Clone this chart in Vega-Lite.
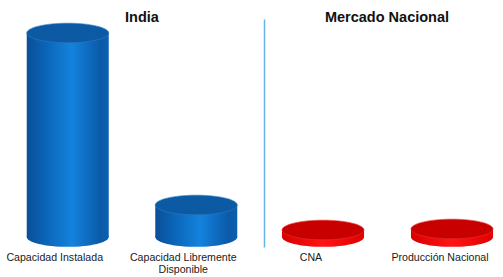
{
  "$schema": "https://vega.github.io/schema/vega-lite/v6.json",
  "padding": {"top": 9, "left": 0, "right": 0, "bottom": 0},
  "spacing": 0,
  "background": "white",
  "config": {
    "view": {"stroke": null},
    "font": "Liberation Sans",
    "title": {"font": "Liberation Sans", "fontSize": 14.5, "fontWeight": "bold", "color": "#111111", "anchor": "middle"},
    "axis": {"labelFont": "Liberation Sans", "labelFontSize": 10.6, "labelColor": "#1a1a1a"}
  },
  "hconcat": [
    {
      "width": 264,
      "height": 228,
      "title": {"text": "India", "dx": 10, "dy": 10},
      "data": {"values": [
        {"categoria": "Capacidad Instalada", "valor": 204},
        {"categoria": "Capacidad Libremente Disponible", "valor": 32}
      ]},
      "encoding": {
        "x": {
          "field": "categoria", "type": "nominal", "sort": null,
          "scale": {"paddingInner": 0.362, "paddingOuter": 0.208, "align": 0.5, "round": false},
          "axis": {"title": null, "domain": false, "ticks": false, "tickSize": 0, "labelAngle": 0, "labelPadding": 5, "labelOffset": -13, "labelLineHeight": 12,
                   "labelExpr": "datum.label == 'Capacidad Libremente Disponible' ? ['Capacidad Libremente', 'Disponible'] : datum.label"}
        }
      },
      "layer": [
        {
          "mark": {"type": "point", "shape": "M-1,0A1,0.24,0,1,1,1,0A1,0.24,0,1,1,-1,0Z", "size": 6724, "filled": true, "opacity": 1, "strokeWidth": 0,
                   "fill": {"gradient": "linear", "x1": 0, "x2": 1, "y1": 0, "y2": 0, "stops": [{"offset": 0, "color": "#0a4f96"}, {"offset": 0.2, "color": "#0a62b4"}, {"offset": 0.55, "color": "#1482dd"}, {"offset": 0.9, "color": "#0a5aa8"}, {"offset": 1, "color": "#0c60b0"}]}},
          "encoding": {"y": {"datum": 0, "type": "quantitative", "scale": {"domain": [-10, 218], "nice": false, "zero": false}, "axis": null}}
        },
        {
          "mark": {"type": "bar", "width": {"band": 1},
                   "fill": {"gradient": "linear", "x1": 0, "x2": 1, "y1": 0, "y2": 0, "stops": [{"offset": 0, "color": "#0a4f96"}, {"offset": 0.2, "color": "#0a62b4"}, {"offset": 0.55, "color": "#1482dd"}, {"offset": 0.9, "color": "#0a5aa8"}, {"offset": 1, "color": "#0c60b0"}]}},
          "encoding": {"y": {"field": "valor", "type": "quantitative", "scale": {"domain": [-10, 218], "nice": false, "zero": false}, "axis": null}}
        },
        {
          "mark": {"type": "point", "shape": "M-1,0A1,0.24,0,1,1,1,0A1,0.24,0,1,1,-1,0Z", "size": 6724, "filled": true, "opacity": 1, "fill": "#0b5aa3", "stroke": "#2f7cc0", "strokeWidth": 0.6},
          "encoding": {"y": {"field": "valor", "type": "quantitative", "scale": {"domain": [-10, 218], "nice": false, "zero": false}, "axis": null}}
        }
      ]
    },
    {
      "width": 238,
      "height": 228,
      "title": {"text": "Mercado Nacional", "dx": 4, "dy": 10},
      "data": {"values": [
        {"categoria": "CNA", "valor": 7},
        {"categoria": "Producción Nacional", "valor": 8}
      ]},
      "encoding": {
        "x": {
          "field": "categoria", "type": "nominal", "sort": null,
          "scale": {"paddingInner": 0.364, "paddingOuter": 0.1045, "align": 0.667, "round": false},
          "axis": {"title": null, "domain": false, "ticks": false, "tickSize": 0, "labelAngle": 0, "labelPadding": 5, "labelOffset": -12, "labelLineHeight": 12}
        },
        "y": {"field": "valor", "type": "quantitative", "scale": {"domain": [-10, 218], "nice": false, "zero": false},
              "axis": {"title": null, "labels": false, "ticks": false, "grid": false, "domain": true, "domainColor": "#66b3e6", "domainWidth": 1.5}}
      },
      "layer": [
        {
          "mark": {"type": "point", "shape": "M-1,0A1,0.24,0,1,1,1,0A1,0.24,0,1,1,-1,0Z", "size": 6724, "filled": true, "opacity": 1, "strokeWidth": 0,
                   "fill": {"gradient": "linear", "x1": 0, "x2": 1, "y1": 0, "y2": 0, "stops": [{"offset": 0, "color": "#d80000"}, {"offset": 0.5, "color": "#ff1414"}, {"offset": 1, "color": "#e00000"}]}},
          "encoding": {"y": {"datum": 0, "type": "quantitative"}}
        },
        {
          "mark": {"type": "bar", "width": {"band": 1},
                   "fill": {"gradient": "linear", "x1": 0, "x2": 1, "y1": 0, "y2": 0, "stops": [{"offset": 0, "color": "#d80000"}, {"offset": 0.5, "color": "#ff1414"}, {"offset": 1, "color": "#e00000"}]}}
        },
        {
          "mark": {"type": "point", "shape": "M-1,0A1,0.24,0,1,1,1,0A1,0.24,0,1,1,-1,0Z", "size": 6724, "filled": true, "opacity": 1, "fill": "#c80000", "stroke": "#e83030", "strokeWidth": 0.6}
        }
      ]
    }
  ]
}
